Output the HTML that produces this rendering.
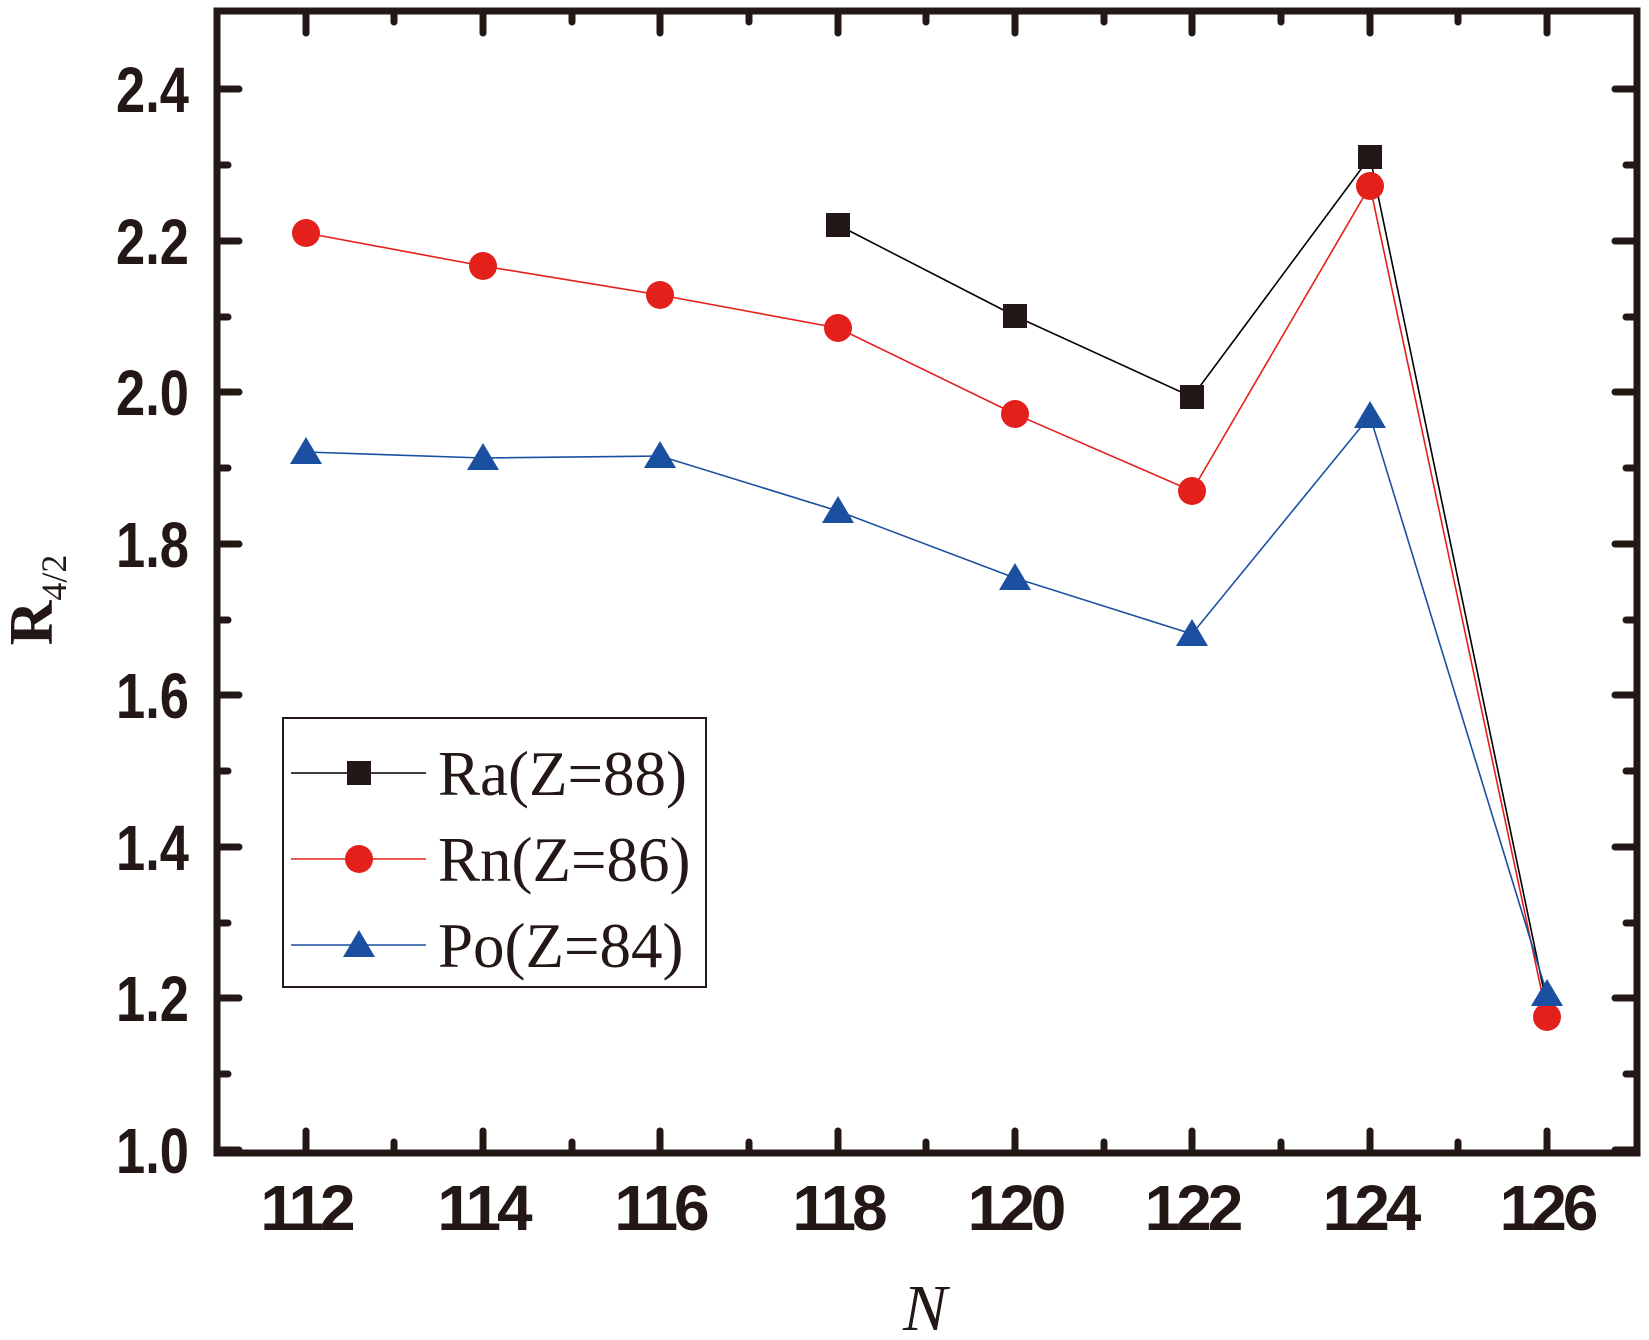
<!DOCTYPE html>
<html><head><meta charset="utf-8"><style>body{margin:0;background:#fff}svg{display:block}</style></head>
<body>
<svg width="1649" height="1340" viewBox="0 0 1649 1340" xmlns="http://www.w3.org/2000/svg">
<defs>
<clipPath id="c"><rect x="217" y="11" width="1420" height="1142"/></clipPath>
</defs>
<g stroke="#231815" stroke-width="7" stroke-linecap="round" fill="none">
<rect x="217" y="11" width="1420" height="1142"/>
<path d="M306 1153v-22M483 1153v-22M660 1153v-22M838 1153v-22M1015 1153v-22M1192 1153v-22M1370 1153v-22M1547 1153v-22
M394 1153v-11M572 1153v-11M749 1153v-11M926 1153v-11M1104 1153v-11M1281 1153v-11M1458 1153v-11
M306 11v22M483 11v22M660 11v22M838 11v22M1015 11v22M1192 11v22M1370 11v22M1547 11v22
M394 11v11M572 11v11M749 11v11M926 11v11M1104 11v11M1281 11v11M1458 11v11"/>
<path d="M217 1150h22M217 998h22M217 847h22M217 695h22M217 544h22M217 392h22M217 241h22M217 89h22
M217 1074h11M217 923h11M217 771h11M217 620h11M217 468h11M217 317h11M217 165h11
M1637 1150h-22M1637 998h-22M1637 847h-22M1637 695h-22M1637 544h-22M1637 392h-22M1637 241h-22M1637 89h-22
M1637 1074h-11M1637 923h-11M1637 771h-11M1637 620h-11M1637 468h-11M1637 317h-11M1637 165h-11"/>
</g>
<g font-family="Liberation Sans, sans-serif" font-weight="bold" font-size="64" fill="#231815">
<g text-anchor="end">
<text x="189" y="1173" transform="translate(189 0) scale(0.82 1) translate(-189 0)">1.0</text>
<text x="189" y="1021" transform="translate(189 0) scale(0.82 1) translate(-189 0)">1.2</text>
<text x="189" y="870" transform="translate(189 0) scale(0.82 1) translate(-189 0)">1.4</text>
<text x="189" y="718" transform="translate(189 0) scale(0.82 1) translate(-189 0)">1.6</text>
<text x="189" y="567" transform="translate(189 0) scale(0.82 1) translate(-189 0)">1.8</text>
<text x="189" y="415" transform="translate(189 0) scale(0.82 1) translate(-189 0)">2.0</text>
<text x="189" y="264" transform="translate(189 0) scale(0.82 1) translate(-189 0)">2.2</text>
<text x="189" y="112" transform="translate(189 0) scale(0.82 1) translate(-189 0)">2.4</text>
</g>
<g text-anchor="middle" letter-spacing="-4">
<text x="306" y="1230">112</text><text x="483" y="1230">114</text><text x="660" y="1230">116</text><text x="838" y="1230">118</text>
<text x="1015" y="1230">120</text><text x="1192" y="1230">122</text><text x="1370" y="1230">124</text><text x="1547" y="1230">126</text>
</g>
</g>
<text x="925" y="1330" text-anchor="middle" font-family="Liberation Serif, serif" font-style="italic" font-size="66" fill="#231815">N</text>
<text transform="translate(52 600) rotate(-90)" text-anchor="middle" font-family="Liberation Serif, serif" font-weight="bold" font-size="62" fill="#231815">R<tspan font-size="36" font-weight="normal" dy="14">4/2</tspan></text>
<g clip-path="url(#c)" stroke-width="1.6" fill="none">
<polyline stroke="#000" points="838,225 1015,316 1192,397 1370,157 1547,1006"/>
<polyline stroke="#e3201b" points="306,233 483,266 660,295 838,328 1015,414 1192,491 1370,186 1547,1017"/>
<polyline stroke="#1b4fa0" points="306,452 483,458 660,456 838,511 1015,578 1192,634 1370,416 1547,994"/>
</g>
<g fill="#231815">
<rect x="826" y="213" width="24" height="24"/><rect x="1003" y="304" width="24" height="24"/><rect x="1180" y="385" width="24" height="24"/><rect x="1358" y="145" width="24" height="24"/>
</g>
<g fill="#e3201b">
<circle cx="306" cy="233" r="14"/><circle cx="483" cy="266" r="14"/><circle cx="660" cy="295" r="14"/><circle cx="838" cy="328" r="14"/>
<circle cx="1015" cy="414" r="14"/><circle cx="1192" cy="491" r="14"/><circle cx="1370" cy="186" r="14"/><circle cx="1547" cy="1017" r="14"/>
</g>
<g fill="#1b4fa0">
<path d="M306 437l16 27h-32z"/><path d="M483 443l16 27h-32z"/><path d="M660 441l16 27h-32z"/><path d="M838 496l16 27h-32z"/>
<path d="M1015 563l16 27h-32z"/><path d="M1192 619l16 27h-32z"/><path d="M1370 401l16 27h-32z"/><path d="M1547 979l16 27h-32z"/>
</g>
<rect x="283" y="718" width="423" height="269" fill="#fff" stroke="#231815" stroke-width="2"/>
<line x1="291" y1="773" x2="426" y2="773" stroke="#000" stroke-width="1.6"/>
<rect x="347" y="761" width="24" height="24" fill="#231815"/>
<line x1="291" y1="859" x2="426" y2="859" stroke="#e3201b" stroke-width="1.6"/>
<circle cx="359" cy="859" r="14" fill="#e3201b"/>
<line x1="291" y1="945" x2="426" y2="945" stroke="#1b4fa0" stroke-width="1.6"/>
<path d="M359 930l16 27h-32z" fill="#1b4fa0"/>
<g font-family="Liberation Serif, serif" font-size="63" fill="#231815">
<text x="438" y="795">Ra(Z=88)</text>
<text x="438" y="881">Rn(Z=86)</text>
<text x="438" y="967">Po(Z=84)</text>
</g>
</svg>
</body></html>
